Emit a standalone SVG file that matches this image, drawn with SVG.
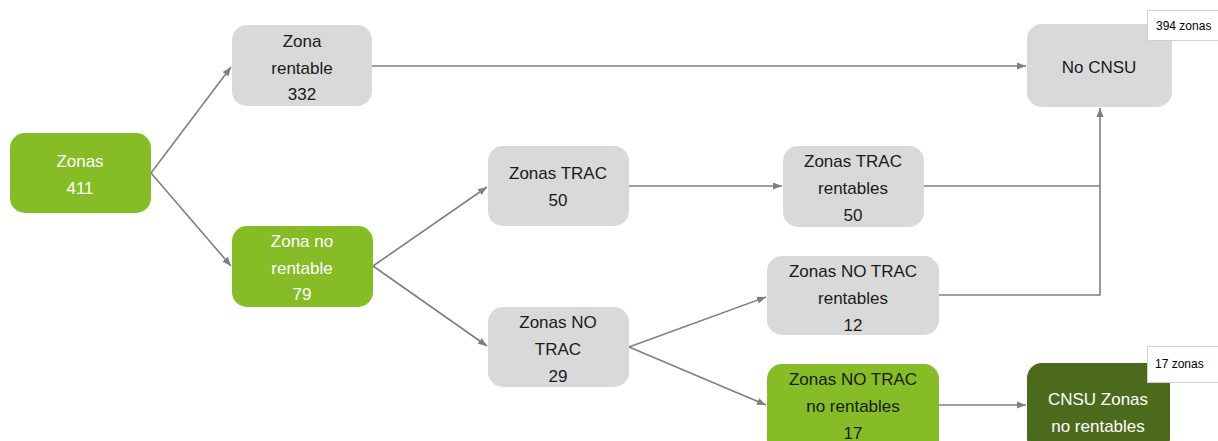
<svg xmlns="http://www.w3.org/2000/svg" width="1218" height="441" viewBox="0 0 1218 441">
<defs>
<marker id="ah" viewBox="0 0 10 10" refX="10" refY="5" markerWidth="9" markerHeight="9" markerUnits="userSpaceOnUse" orient="auto">
<path d="M0,1 L10,5 L0,9 Z" fill="#7f7f7f"/>
</marker>
<style>
.g{fill:#86bc25;}
.gr{fill:#d9d9d9;}
.dg{fill:#4b6a1b;}
text{font-family:"Liberation Sans",Arial,sans-serif;font-size:17px;text-anchor:middle;}
.w{fill:#ffffff;}
.k{fill:#1a1a1a;}
.c{fill:none;stroke:#7f7f7f;stroke-width:1.6;}
.tag{fill:#ffffff;stroke:#d0d0d0;stroke-width:1;}
.tt{font-size:12px;text-anchor:start;fill:#000;}
</style>
</defs>
<rect width="1218" height="441" fill="#ffffff"/>
<g id="connectors">
<line class="c" x1="151" y1="173" x2="231" y2="67" marker-end="url(#ah)"/>
<line class="c" x1="151" y1="173" x2="231" y2="266" marker-end="url(#ah)"/>
<line class="c" x1="372" y1="66" x2="1026" y2="66" marker-end="url(#ah)"/>
<line class="c" x1="373" y1="266" x2="487" y2="187" marker-end="url(#ah)"/>
<line class="c" x1="373" y1="266" x2="487" y2="346" marker-end="url(#ah)"/>
<line class="c" x1="629" y1="186" x2="782" y2="186" marker-end="url(#ah)"/>
<line class="c" x1="629" y1="347" x2="766" y2="297" marker-end="url(#ah)"/>
<line class="c" x1="629" y1="347" x2="766" y2="405" marker-end="url(#ah)"/>
<polyline class="c" points="924,186 1100,186"/>
<polyline class="c" points="939,295 1100,295 1100,108" marker-end="url(#ah)"/>
<line class="c" x1="939" y1="405" x2="1026" y2="405" marker-end="url(#ah)"/>
</g>
<g id="n-zonas">
<rect class="g" x="10" y="133" width="141" height="80" rx="15"/>
<text class="w" x="80" y="167">Zonas</text>
<text class="w" x="80" y="194">411</text>
</g>
<g id="n-rentable">
<rect class="gr" x="232" y="25" width="140" height="81" rx="15"/>
<text class="k" x="302" y="47">Zona</text>
<text class="k" x="302" y="74">rentable</text>
<text class="k" x="302" y="100">332</text>
</g>
<g id="n-norentable">
<rect class="g" x="232" y="226" width="141" height="81" rx="15"/>
<text class="w" x="302" y="247">Zona no</text>
<text class="w" x="302" y="274">rentable</text>
<text class="w" x="302" y="300">79</text>
</g>
<g id="n-trac">
<rect class="gr" x="488" y="146" width="141" height="80" rx="15"/>
<text class="k" x="558" y="179">Zonas TRAC</text>
<text class="k" x="558" y="206">50</text>
</g>
<g id="n-notrac">
<rect class="gr" x="488" y="307" width="141" height="80" rx="15"/>
<text class="k" x="558" y="328">Zonas NO</text>
<text class="k" x="558" y="355">TRAC</text>
<text class="k" x="558" y="382">29</text>
</g>
<g id="n-tracrent">
<rect class="gr" x="783" y="146" width="141" height="81" rx="15"/>
<text class="k" x="853" y="167">Zonas TRAC</text>
<text class="k" x="853" y="194">rentables</text>
<text class="k" x="853" y="221">50</text>
</g>
<g id="n-notracrent">
<rect class="gr" x="767" y="256" width="172" height="79" rx="15"/>
<text class="k" x="853" y="277">Zonas NO TRAC</text>
<text class="k" x="853" y="304">rentables</text>
<text class="k" x="853" y="331">12</text>
</g>
<g id="n-notracnorent">
<rect class="g" x="767" y="364" width="172" height="90" rx="15"/>
<text class="k" x="853" y="385">Zonas NO TRAC</text>
<text class="k" x="853" y="412">no rentables</text>
<text class="k" x="853" y="439">17</text>
</g>
<g id="n-nocnsu">
<rect class="gr" x="1027" y="24" width="145" height="83" rx="15"/>
<text class="k" x="1099" y="73">No CNSU</text>
<rect class="tag" x="1147.5" y="10.5" width="75" height="30"/>
<text class="tt" x="1156" y="30">394 zonas</text>
</g>
<g id="n-cnsu">
<rect class="dg" x="1027" y="363" width="143" height="90" rx="15"/>
<text class="w" x="1098" y="405">CNSU Zonas</text>
<text class="w" x="1098" y="432">no rentables</text>
<rect class="tag" x="1147.5" y="346.5" width="75" height="36"/>
<text class="tt" x="1155" y="368">17 zonas</text>
</g>
</svg>
